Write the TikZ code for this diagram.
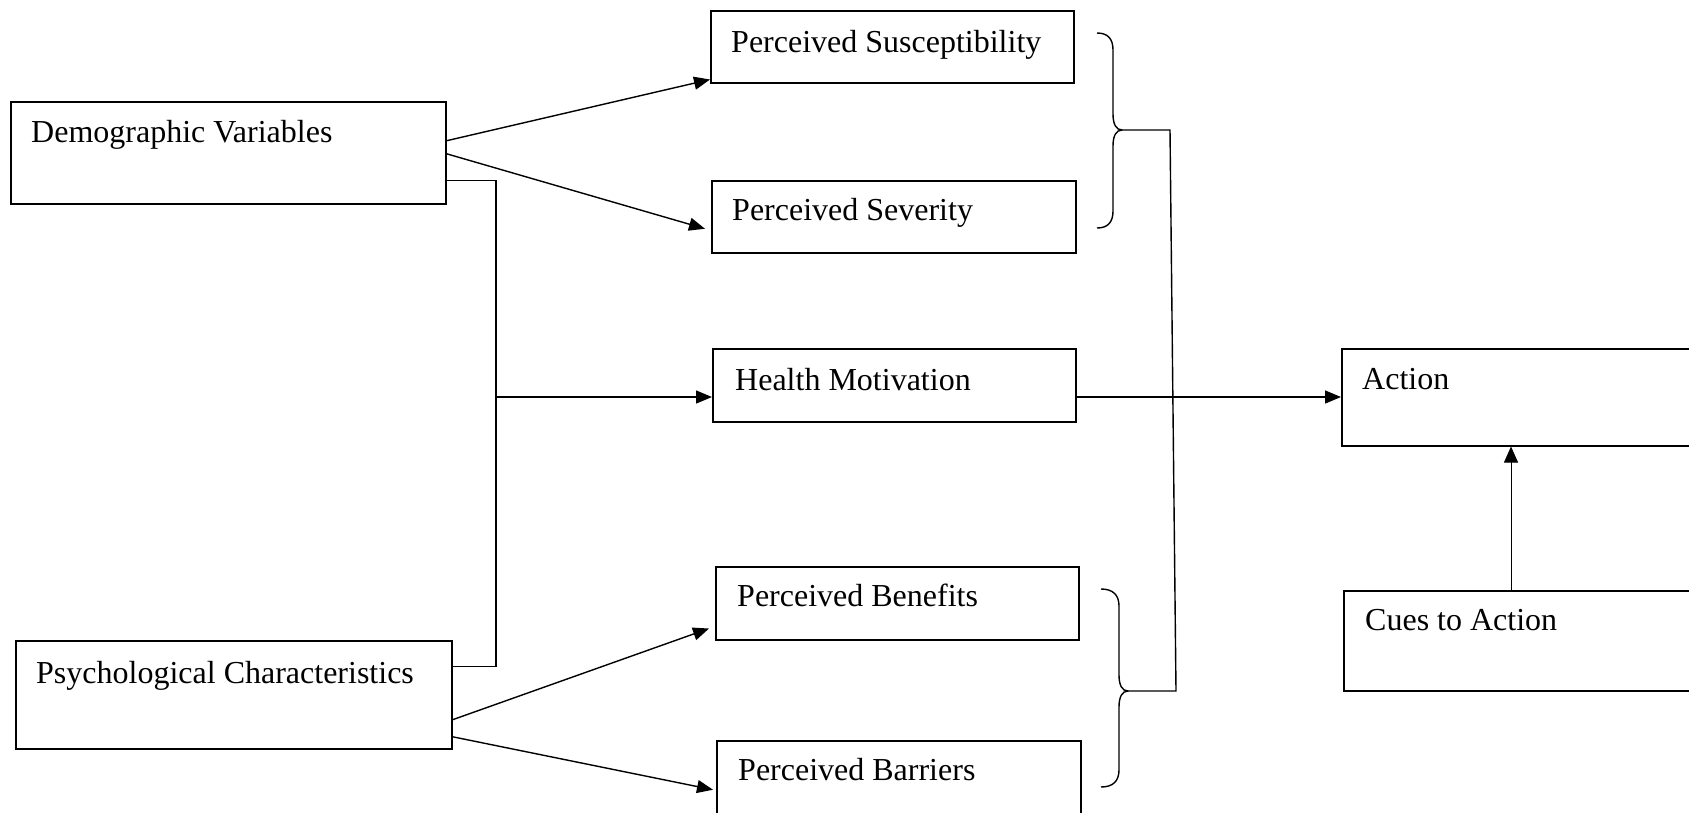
\documentclass[tikz,border=0pt]{standalone}
\usepackage{fontspec}
\setmainfont{Liberation Serif}
\usetikzlibrary{arrows.meta}
\begin{document}
\begin{tikzpicture}[x=1pt,y=-1pt,
  box/.style={draw, line width=1.5pt, inner sep=0pt, anchor=north west},
  lbl/.style={inner sep=0pt, anchor=base west, font=\fontsize{32pt}{38pt}\selectfont},
  link/.style={line width=1.4pt},
  arr/.style={link, -{Triangle[length=16pt,width=13pt]}},
  thinarr/.style={line width=0.8pt, -{Triangle[length=16pt,width=14pt]}},
  brace/.style={line width=1.4pt, line join=round}
]
\useasboundingbox (0,0) rectangle (1689,812);

% boxes
\node[box, minimum width=435pt, minimum height=102pt] (dv) at (10,101) {};
\node[box, minimum width=436pt, minimum height=108pt] (pc) at (15,640) {};
\node[box, minimum width=363pt, minimum height=72pt] (ps) at (710,10) {};
\node[box, minimum width=364pt, minimum height=72pt] (sv) at (711,180) {};
\node[box, minimum width=363pt, minimum height=73pt] (hm) at (712,348) {};
\node[box, minimum width=363pt, minimum height=73pt] (pb) at (715,566) {};
\node[box, minimum width=364pt, minimum height=76pt] (pr) at (716,740) {};
\node[box, minimum width=370pt, minimum height=97pt] (ac) at (1341,348) {};
\node[box, minimum width=370pt, minimum height=100pt] (cu) at (1343,590) {};

% labels
\node[lbl] (dvt) at (31,142) {Demographic Variables};
\node[lbl] (pct) at (36,683) {Psychological Characteristics};
\node[lbl] (pst) at (731,52) {Perceived Susceptibility};
\node[lbl] (svt) at (732,220) {Perceived Severity};
\node[lbl] (hmt) at (735,390) {Health Motivation};
\node[lbl] (pbt) at (737,606) {Perceived Benefits};
\node[lbl] (prt) at (738,780) {Perceived Barriers};
\node[lbl] (act) at (1362,389) {Action};
\node[lbl] (cut) at (1365,630) {Cues to Action};

% modifying factors to perceptions
\draw[arr] ([yshift=12pt]dv.east) -- ([yshift=4pt]ps.south west);
\draw[arr] ([yshift=-1pt]dv.east) -- ([xshift=-6pt,yshift=-12pt]sv.west);
\draw[arr] ([yshift=-25pt]pc.east) -- ([xshift=-6pt,yshift=12pt]pb.south west);
\draw[arr] ([yshift=-42pt]pc.east) -- ([xshift=-3pt,yshift=-11pt]pr.west);

% shared trunk into health motivation
\coordinate (tk) at (496,397);
\draw[link] ([yshift=-28pt]dv.east) -| (tk) |- ([yshift=28pt]pc.east);
\draw[arr] (tk) -- (tk -| hm.west);

% health motivation to action
\draw[arr] (hm.east |- tk) -- (ac.west |- tk);

% braces
\coordinate (b1t) at (1097,33);
\coordinate (b1m) at (1122,130);
\coordinate (b1b) at (1097,228);
\draw[brace] (b1t) .. controls (1108,33) and (1113,39) .. (1113,50)
  -- (1113,114) .. controls (1113,124) and (1116,130) .. (b1m)
  .. controls (1116,130) and (1113,136) .. (1113,146)
  -- (1113,211) .. controls (1113,222) and (1108,228) .. (b1b);

\coordinate (b2t) at (1101,589);
\coordinate (b2m) at (1128,691);
\coordinate (b2b) at (1101,787);
\draw[brace] (b2t) .. controls (1113,589) and (1119,595) .. (1119,606)
  -- (1119,675) .. controls (1119,685) and (1122,691) .. (b2m)
  .. controls (1122,691) and (1119,697) .. (1119,707)
  -- (1119,770) .. controls (1119,781) and (1113,787) .. (b2b);

% line joining the two braces
\coordinate (r1) at (1170,130);
\coordinate (r2) at (1176,691);
\draw[link] (b1m) -- (r1) -- (r2) -- (b2m);

% cues to action
\coordinate (cx) at (1511,0);
\draw[thinarr] (cu.north -| cx) -- (ac.south -| cx);
\end{tikzpicture}
\end{document}
